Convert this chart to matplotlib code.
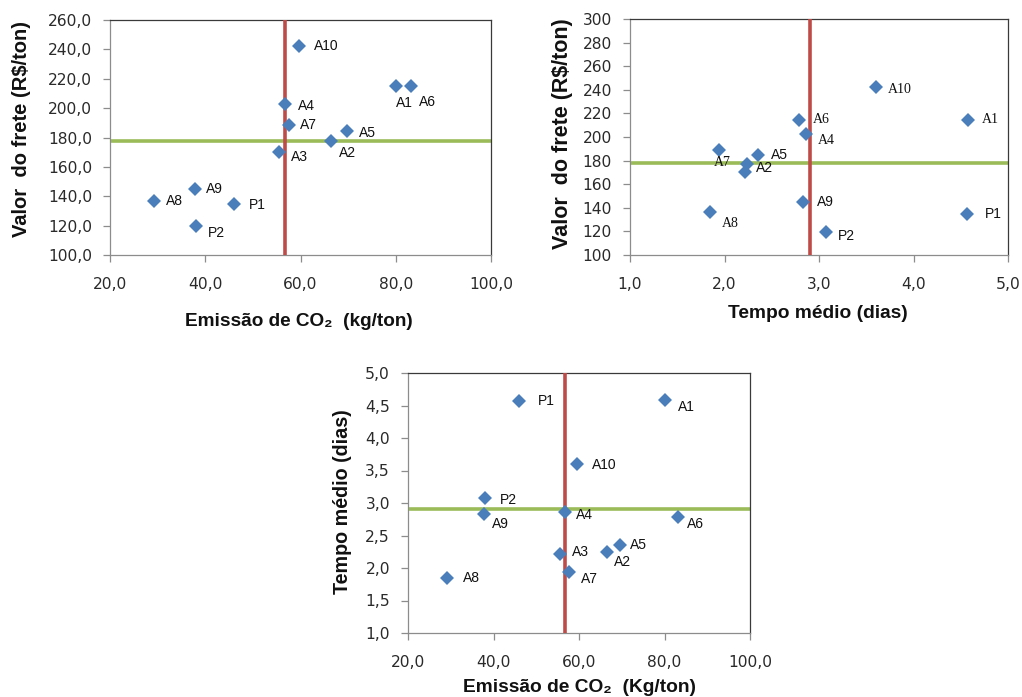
import matplotlib
matplotlib.use("Agg")
import matplotlib.pyplot as plt
from matplotlib.ticker import FuncFormatter

plt.rcParams['font.family'] = ['Liberation Sans', 'DejaVu Sans']

# ---------------- data ----------------
names = ["A1", "A2", "A3", "A4", "A5", "A6", "A7", "A8", "A9", "A10", "P1", "P2"]
emissao_co2 = [80.1, 66.5, 55.5, 56.8, 69.7, 83.1, 57.6, 29.2, 37.8, 59.6, 46.0, 38.1]
valor_frete = [214.8, 177.3, 170.0, 202.8, 184.5, 214.8, 188.7, 136.7, 145.0, 242.2, 134.5, 119.8]
tempo_medio = [4.58, 2.24, 2.22, 2.86, 2.35, 2.79, 1.94, 1.85, 2.83, 3.60, 4.57, 3.07]
media_co2 = 56.7
media_frete = 177.8
media_tempo = 2.91

x_ticks_co2 = [20, 40, 60, 80, 100]
y_ticks_frete1 = [100, 120, 140, 160, 180, 200, 220, 240, 260]
x_ticks_tempo = [1, 2, 3, 4, 5]
y_ticks_frete2 = [100, 120, 140, 160, 180, 200, 220, 240, 260, 280, 300]
y_ticks_tempo = [1.0, 1.5, 2.0, 2.5, 3.0, 3.5, 4.0, 4.5, 5.0]

# ---------------- label offsets (pixels, styling) ----------------
off1 = {"A1": (0, -17), "A2": (8, -12), "A3": (12, -5), "A4": (13, -2), "A5": (12, -2),
        "A6": (8, -16), "A7": (11, 0), "A8": (12, 0), "A9": (11, 0), "A10": (15, 0),
        "P1": (15, -1), "P2": (12, -7)}
off2 = {"A1": (14, 0), "A2": (9, -4), "A4": (12, -7), "A5": (13, 0),
        "A6": (14, 0), "A7": (-5, -12), "A8": (12, -12), "A9": (14, 0), "A10": (12, -2),
        "P1": (18, 0), "P2": (12, -4)}
serif2 = {"A1", "A4", "A6", "A7", "A8", "A10"}
off3 = {"A1": (13, -7), "A2": (7, -10), "A3": (12, 2), "A4": (11, -3), "A5": (10, 0),
        "A6": (9, -7), "A7": (12, -7), "A8": (16, 0), "A9": (8, -10), "A10": (15, -1),
        "P1": (19, 0), "P2": (14, -2)}

W, H = 1022, 697
fig = plt.figure(figsize=(W / 100, H / 100), dpi=100)

BLUE = "#4A7EBB"
RED = "#BE4B48"
GREEN = "#9BBB59"
TICKC = "#2A2A2A"


def axes_px(l, t, r, b):
    return fig.add_axes([l / W, 1 - b / H, (r - l) / W, (b - t) / H])


def style(ax):
    for s in ("left", "bottom"):
        ax.spines[s].set_color("#8C8C8C")
    for s in ("top", "right"):
        ax.spines[s].set_color("#3A3A3A")
    for s in ax.spines.values():
        s.set_linewidth(0.9)
    ax.tick_params(direction="out", length=5, width=0.9, color="#8C8C8C",
                   labelsize=11.2, labelcolor=TICKC, labelfontfamily="DejaVu Sans")
    ax.tick_params(axis="x", pad=11)
    ax.tick_params(axis="y", pad=8)


def comma1(v, pos):
    return ("%.1f" % v).replace(".", ",")


def intfmt(v, pos):
    return "%d" % round(v)


def scatter(ax, xs, ys):
    ax.plot(xs, ys, linestyle="none", marker="D", markersize=6.7,
            color=BLUE, markeredgewidth=0, zorder=4)


def label_pts(ax, xs, ys, offs, serif=set(), size=10):
    for n, x, y in zip(names, xs, ys):
        if n not in offs:
            continue
        fam = ['Liberation Serif', 'DejaVu Serif'] if n in serif else ['Liberation Sans', 'DejaVu Sans']
        ax.annotate(n, (x, y), xytext=offs[n], textcoords="offset pixels",
                    ha="left", va="center", fontsize=size, color="#111111",
                    family=fam, zorder=5)


def figtext(x, y, s, rot=0, size=13.5):
    fig.text(x / W, 1 - y / H, s, ha="center", va="center", rotation=rot,
             fontsize=size, fontweight="bold", color="#111111")


def ticks(ax, xt, yt, xf, yf):
    ax.set_xticks(xt)
    ax.set_yticks(yt)
    ax.xaxis.set_major_formatter(FuncFormatter(xf))
    ax.yaxis.set_major_formatter(FuncFormatter(yf))


# ---------------- chart 1 ----------------
ax1 = axes_px(110, 20, 491, 255)
style(ax1)
ax1.set_xlim(20, 100)
ax1.set_ylim(100, 260)
ticks(ax1, x_ticks_co2, y_ticks_frete1, comma1, comma1)
ax1.axvline(media_co2, color=RED, lw=2.6, zorder=3)
ax1.axhline(media_frete, color=GREEN, lw=2.6, zorder=2)
scatter(ax1, emissao_co2, valor_frete)
label_pts(ax1, emissao_co2, valor_frete, off1)
figtext(22, 129, "Valor  do frete (R$/ton)", rot=90, size=14.5)
figtext(299, 321, "Emissão de CO₂  (kg/ton)", size=13.7)

# ---------------- chart 2 ----------------
ax2 = axes_px(630, 19, 1008, 255)
style(ax2)
ax2.set_xlim(1, 5)
ax2.set_ylim(100, 300)
ticks(ax2, x_ticks_tempo, y_ticks_frete2, comma1, intfmt)
ax2.axvline(media_tempo, color=RED, lw=2.6, zorder=3)
ax2.axhline(media_frete, color=GREEN, lw=2.6, zorder=2)
scatter(ax2, tempo_medio, valor_frete)
label_pts(ax2, tempo_medio, valor_frete, off2, serif=serif2)
figtext(562, 134, "Valor  do frete (R$/ton)", rot=90, size=15.5)
figtext(818, 314, "Tempo médio (dias)", size=13.8)

# ---------------- chart 3 ----------------
ax3 = axes_px(408, 373, 750, 633)
style(ax3)
ax3.set_xlim(20, 100)
ax3.set_ylim(1, 5)
ticks(ax3, x_ticks_co2, y_ticks_tempo, comma1, comma1)
ax3.axvline(media_co2, color=RED, lw=2.6, zorder=3)
ax3.axhline(media_tempo, color=GREEN, lw=2.6, zorder=2)
scatter(ax3, emissao_co2, tempo_medio)
label_pts(ax3, emissao_co2, tempo_medio, off3)
figtext(342, 502, "Tempo médio (dias)", rot=90, size=14.2)
figtext(579, 688, "Emissão de CO₂  (Kg/ton)", size=13.8)

fig.savefig("out.png", dpi=100, facecolor="white")
